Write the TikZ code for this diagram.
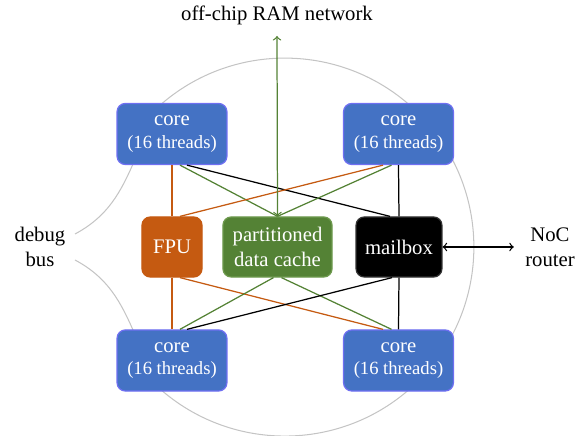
\documentclass[tikz,border=0pt]{standalone}
\usepackage{fontspec}
\setmainfont{Liberation Serif}
\definecolor{coreblue}{HTML}{4472C4}
\definecolor{coreedge}{HTML}{6F6FF2}
\definecolor{fpuorange}{HTML}{C55A11}
\definecolor{cachegreen}{HTML}{548235}
\definecolor{cacheedge}{HTML}{6E9A4E}
\definecolor{ringgray}{HTML}{C4C4C4}
\begin{document}
\begin{tikzpicture}[x=0.4831pt,y=0.4831pt,
  unit/.style={rounded corners=4pt,inner sep=0pt,align=center,text=white,line width=0.6pt},
  corebox/.style={unit,fill=coreblue,draw=coreedge,minimum width=53.1pt,minimum height=29.5pt},
  fpubox/.style={unit,fill=fpuorange,draw=fpuorange,minimum width=29pt,minimum height=29pt},
  cachebox/.style={unit,fill=cachegreen,draw=cacheedge,minimum width=52.7pt,minimum height=29pt},
  mailbox/.style={unit,fill=black,draw=black!80,minimum width=41.5pt,minimum height=29pt},
  label/.style={align=center,text=black},
  olink/.style={draw=fpuorange,line width=0.6pt},
  glink/.style={draw=cachegreen,line width=0.6pt},
  klink/.style={draw=black,line width=0.6pt},
  ring/.style={draw=ringgray,line width=0.5pt}
]
\useasboundingbox (0,0) rectangle (586,-436);

% ring (drawn first, behind the nodes)
\draw[ring] (75,-234) to[out=28,in=245] (148,-130) -- (154.8,-110)
  arc[start angle=133.5,end angle=-133.5,radius=189]
  -- (148,-364) to[out=115,in=-28] (75,-260);

% nodes
\node[corebox] (c1) at (172,-134) {core\\[-1pt]{\small(16 threads)}};
\node[corebox] (c2) at (398.5,-134) {core\\[-1pt]{\small(16 threads)}};
\node[corebox] (c3) at (172,-360.5) {core\\[-1pt]{\small(16 threads)}};
\node[corebox] (c4) at (398.5,-360.5) {core\\[-1pt]{\small(16 threads)}};
\node[fpubox] (fpu) at (172,-247) {FPU};
\node[cachebox] (cache) at (277.5,-247) {partitioned\\data cache};
\node[mailbox] (mb) at (399,-247) {mailbox};
\node[label] (dbg) at (40,-247) {debug\\bus};
\node[label] (noc) at (550,-247) {NoC\\router};
\node[label] (ram) at (277,-15) {off-chip RAM network};
\coordinate (ramend) at (277,-36);

% links top cores -> units
\draw[olink] (c1.south) -- (fpu.north);
\draw[glink] ([shift={(8,0)}]c1.south) -- (cache.north);
\draw[klink] ([shift={(15,0)}]c1.south) -- ([shift={(-9,0)}]mb.north);
\draw[olink] ([shift={(-15.5,0)}]c2.south) -- ([shift={(8,0)}]fpu.north);
\draw[glink] ([shift={(-7,0)}]c2.south) -- (cache.north);
\draw[klink] (c2.south) -- (mb.north);

% links units -> bottom cores
\draw[olink] (fpu.south) -- (c3.north);
\draw[olink] ([shift={(8,0)}]fpu.south) -- ([shift={(-15.5,0)}]c4.north);
\draw[glink] ([shift={(-4,0)}]cache.south) -- ([shift={(8,0)}]c3.north);
\draw[glink] ([shift={(4,0)}]cache.south) -- ([shift={(-7,0)}]c4.north);
\draw[klink] ([shift={(-7,0)}]mb.south) -- ([shift={(15,0)}]c3.north);
\draw[klink] (mb.south) -- (c4.north);

% external arrows
\draw[glink,<->] (cache.north) -- (ramend);
\draw[klink,<->,shorten >=2pt] (mb.east) -- (noc.west);
\end{tikzpicture}
\end{document}
